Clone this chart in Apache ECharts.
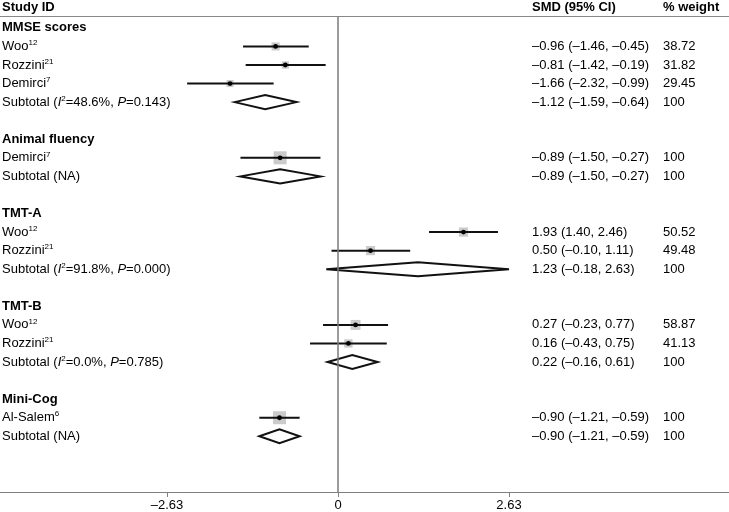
<!DOCTYPE html>
<html><head><meta charset="utf-8">
<script src="https://cdn.jsdelivr.net/npm/echarts@6/dist/echarts.min.js"></script>
<style>html,body{margin:0;padding:0;background:#fff}#c{width:729px;height:512px}</style>
</head><body><div id="c"></div>
<script>
// ---- data ----
const groupNames = ['MMSE scores', 'Animal fluency', 'TMT-A', 'TMT-B', 'Mini-Cog'];
const groupRows = [0, 6, 10, 15, 20];

const studyNames = ['Woo', 'Rozzini', 'Demirci', 'Demirci', 'Woo', 'Rozzini', 'Woo', 'Rozzini', 'Al-Salem'];
const studyRefs = ['12', '21', '7', '7', '12', '21', '12', '21', '6'];
const studyRows = [1, 2, 3, 7, 11, 12, 16, 17, 21];
const studyEst = [-0.96, -0.81, -1.66, -0.89, 1.93, 0.50, 0.27, 0.16, -0.90];
const studyLo = [-1.46, -1.42, -2.32, -1.50, 1.40, -0.10, -0.23, -0.43, -1.21];
const studyHi = [-0.45, -0.19, -0.99, -0.27, 2.46, 1.11, 0.77, 0.75, -0.59];
const studyWeight = [38.72, 31.82, 29.45, 100, 50.52, 49.48, 58.87, 41.13, 100];

const subRows = [4, 8, 13, 18, 22];
const subEst = [-1.12, -0.89, 1.23, 0.22, -0.90];
const subLo = [-1.59, -1.50, -0.18, -0.16, -1.21];
const subHi = [-0.64, -0.27, 2.63, 0.61, -0.59];
const subI2 = ['48.6%', null, '91.8%', '0.0%', null];
const subP = ['0.143', null, '0.000', '0.785', null];
const subWeight = [100, 100, 100, 100, 100];

const xTicks = [-2.63, 0, 2.63];
const headers = ['Study ID', 'SMD (95% CI)', '% weight'];

// ---- chart ----
const XMIN = -5.198, XMAX = 6.013;
const HEADER_ROW = -1.12, RULE_ROW = -0.64, AXIS_ROW = 25;
const FONT = '"Liberation Sans", Arial, Helvetica, sans-serif';
const FS = 13;
const COL_SMD = 532, COL_W = 663, COL_LABEL = 2;

function fmt(v) { return (v < 0 ? '\u2013' : '') + Math.abs(v).toFixed(2); }
function ciText(e, l, h) { return fmt(e) + ' (' + fmt(l) + ', ' + fmt(h) + ')'; }
function wText(w) { return w === 100 ? '100' : w.toFixed(2); }

const rich = {
  n: { fontSize: FS, fontFamily: FONT, fill: '#000', lineHeight: 15 },
  i: { fontSize: FS, fontFamily: FONT, fontStyle: 'italic', fill: '#000', lineHeight: 15 },
  s: { fontSize: 8, fontFamily: FONT, fill: '#000', verticalAlign: 'top', lineHeight: 15 },
  b: { fontSize: FS, fontFamily: FONT, fontWeight: 'bold', fill: '#000', lineHeight: 15 }
};

// text rows
const textRows = [];
groupRows.forEach((r, i) => textRows.push({ row: r, left: '{b|' + groupNames[i] + '}', smd: '', w: '' }));
studyRows.forEach((r, i) => textRows.push({
  row: r, left: '{n|' + studyNames[i] + '}{s|' + studyRefs[i] + '}',
  smd: ciText(studyEst[i], studyLo[i], studyHi[i]), w: wText(studyWeight[i])
}));
subRows.forEach((r, i) => textRows.push({
  row: r,
  left: subI2[i] === null ? '{n|Subtotal (NA)}' :
    '{n|Subtotal (}{i|I}{s|2}{n|=' + subI2[i] + ', }{i|P}{n|=' + subP[i] + ')}',
  smd: ciText(subEst[i], subLo[i], subHi[i]), w: wText(subWeight[i])
}));

const chart = echarts.init(document.getElementById('c'), null, { renderer: 'canvas' });

chart.setOption({
  animation: false,
  grid: { left: 0, right: 0, top: 0, bottom: 20 },
  xAxis: {
    type: 'value', min: XMIN, max: XMAX,
    axisLine: { show: true, onZero: false, lineStyle: { color: '#808080', width: 1.2 } },
    axisTick: { show: true, customValues: xTicks, length: 5, inside: false, lineStyle: { color: '#808080' } },
    axisLabel: { customValues: xTicks, formatter: v => (Math.abs(v) < 1e-9 ? '0' : fmt(v)),
      color: '#000', fontSize: FS, fontFamily: FONT, margin: 7 },
    splitLine: { show: false }
  },
  yAxis: { type: 'value', inverse: true, min: -1.5, max: AXIS_ROW, show: false, splitLine: { show: false } },
  series: [
    { // reference lines
      type: 'line', data: [], silent: true,
      markLine: {
        symbol: 'none', silent: true, label: { show: false },
        lineStyle: { color: '#7a7a7a', width: 1.5, type: 'solid' },
        data: [
          [{ coord: [0, RULE_ROW] }, { coord: [0, AXIS_ROW] }],
          [{ coord: [XMIN, RULE_ROW], lineStyle: { width: 1.2, color: '#888' } }, { coord: [XMAX, RULE_ROW] }]
        ]
      }
    },
    { // studies
      type: 'custom', silent: true,
      data: studyRows.map((r, i) => [studyEst[i], r, studyLo[i], studyHi[i], studyWeight[i]]),
      encode: { x: [0, 2, 3], y: 1 },
      renderItem: (params, api) => {
        const y = api.value(1);
        const p = api.coord([api.value(0), y]);
        const l = api.coord([api.value(2), y]);
        const h = api.coord([api.value(3), y]);
        const s = 1.3 * Math.sqrt(api.value(4));
        return { type: 'group', children: [
          { type: 'rect', shape: { x: p[0] - s / 2, y: p[1] - s / 2, width: s, height: s }, style: { fill: '#cbcbcb' } },
          { type: 'line', shape: { x1: l[0], y1: l[1], x2: h[0], y2: h[1] }, style: { stroke: '#111', lineWidth: 2 } },
          { type: 'circle', shape: { cx: p[0], cy: p[1], r: 2.4 }, style: { fill: '#000' } }
        ] };
      }
    },
    { // subtotal diamonds
      type: 'custom', silent: true,
      data: subRows.map((r, i) => [subEst[i], r, subLo[i], subHi[i]]),
      encode: { x: [0, 2, 3], y: 1 },
      renderItem: (params, api) => {
        const y = api.value(1);
        const p = api.coord([api.value(0), y]);
        const l = api.coord([api.value(2), y]);
        const h = api.coord([api.value(3), y]);
        const hh = 7;
        return { type: 'polygon',
          shape: { points: [[l[0], p[1]], [p[0], p[1] - hh], [h[0], p[1]], [p[0], p[1] + hh]] },
          style: { fill: '#fff', stroke: '#111', lineWidth: 2 } };
      }
    },
    { // text rows
      type: 'custom', silent: true,
      data: textRows.map(t => [0, t.row]),
      encode: { x: 0, y: 1 },
      renderItem: (params, api) => {
        const t = textRows[params.dataIndex];
        const c = api.coord([0, api.value(1)]);
        const base = { fontSize: FS, fontFamily: FONT, fill: '#000', verticalAlign: 'middle', align: 'left' };
        return { type: 'group', children: [
          { type: 'text', x: COL_LABEL, y: c[1], style: Object.assign({}, base, { text: t.left, rich: rich }) },
          { type: 'text', x: COL_SMD, y: c[1], style: Object.assign({}, base, { text: t.smd }) },
          { type: 'text', x: COL_W, y: c[1], style: Object.assign({}, base, { text: t.w }) }
        ] };
      }
    },
    { // headers
      type: 'custom', silent: true,
      data: [[0, HEADER_ROW]],
      encode: { x: 0, y: 1 },
      renderItem: (params, api) => {
        const c = api.coord([0, api.value(1)]);
        const base = { fontSize: FS, fontFamily: FONT, fontWeight: 'bold', fill: '#000', verticalAlign: 'middle', align: 'left' };
        return { type: 'group', children: [
          { type: 'text', x: COL_LABEL, y: c[1], style: Object.assign({}, base, { text: headers[0] }) },
          { type: 'text', x: COL_SMD, y: c[1], style: Object.assign({}, base, { text: headers[1] }) },
          { type: 'text', x: COL_W, y: c[1], style: Object.assign({}, base, { text: headers[2] }) }
        ] };
      }
    }
  ]
});
</script>
</body></html>
